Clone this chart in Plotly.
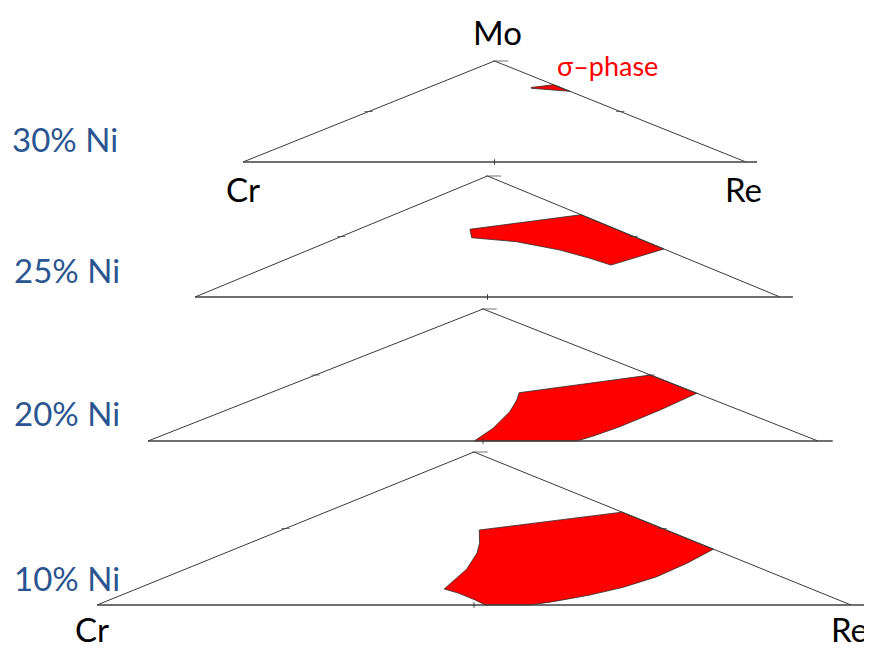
import plotly.graph_objects as go

# page has an 8px body margin, so the figure is 864x640 and sits at (8, 8)
PAGE_W, PAGE_H = 872, 648
OFF = 8
FIG_W, FIG_H = PAGE_W - OFF, PAGE_H - OFF

# ---------------- data ----------------
ni_levels = ["30% Ni", "25% Ni", "20% Ni", "10% Ni"]
components = ["Cr", "Mo", "Re"]
phase_name = "σ–phase"

# sigma-phase field outlines, mole fractions of Mo and Re (Cr = balance)
sigma_mo_30 = [0.738, 0.757, 0.765, 0.700, 0.713, 0.723, 0.730]
sigma_re_30 = [0.204, 0.221, 0.235, 0.300, 0.264, 0.229, 0.208]

sigma_mo_25 = [0.560, 0.680, 0.397, 0.264, 0.320, 0.388, 0.457, 0.490]
sigma_re_25 = [0.190, 0.320, 0.603, 0.579, 0.515, 0.430, 0.321, 0.228]

sigma_mo_20 = [0.366, 0.500, 0.362, 0.235, 0.108, 0.038, 0.000, 0.000, 0.096, 0.222, 0.311]
sigma_re_20 = [0.371, 0.500, 0.638, 0.647, 0.650, 0.646, 0.640, 0.487, 0.467, 0.429, 0.395]

sigma_mo_10 = [0.490, 0.607, 0.365, 0.273, 0.185, 0.116, 0.065, 0.022, 0.000, 0.000,
               0.033, 0.078, 0.105, 0.163, 0.235, 0.340, 0.405]
sigma_re_10 = [0.262, 0.393, 0.635, 0.646, 0.650, 0.640, 0.621, 0.594, 0.574, 0.515,
               0.485, 0.440, 0.408, 0.393, 0.373, 0.334, 0.305]

sigma_mo = [sigma_mo_30, sigma_mo_25, sigma_mo_20, sigma_mo_10]
sigma_re = [sigma_re_30, sigma_re_25, sigma_re_20, sigma_re_10]

# ---------------- layout (page pixels) ----------------
# (Cr corner x, Re corner x, base y, apex y)
panel_boxes = [(243, 746, 162, 61), (195, 780, 297, 176), (148, 818, 441, 309), (97, 851, 605, 452)]
ni_label_pos = [(65, 139), (67, 270), (67, 413), (67, 578)]
corner_label_pos = [(243, 189), (743, 189), (497, 32), (92, 629), (849, 629)]
corner_label_idx = [0, 2, 1, 0, 2]
phase_label_pos = (607, 66)
X_RANGE = [-0.012, 1.025]
Y_RANGE = [-0.03, 1.03]

FONT = "Lato, 'Open Sans', sans-serif"
RED = "#FF0000"
BLUE = "#2B5590"


def px2paper(x, y):
    return (x - OFF) / FIG_W, (FIG_H - (y - OFF)) / FIG_H


def proj(mo, re):
    """ternary (Mo, Re) -> Cartesian position inside a Cr-Re base triangle"""
    return [r + m / 2 for m, r in zip(mo, re)], list(mo)


fig = go.Figure()
axes = {}
for i, (xc, xr, yb, yt) in enumerate(panel_boxes):
    n = i + 1
    W, H = xr - xc, yb - yt
    sfx = "" if n == 1 else str(n)
    x0, y0 = px2paper(xc + X_RANGE[0] * W, yb - Y_RANGE[0] * H)
    x1, y1 = px2paper(xc + X_RANGE[1] * W, yb - Y_RANGE[1] * H)
    axes["xaxis" + sfx] = dict(domain=[x0, x1], range=X_RANGE, visible=False,
                               anchor="y" + sfx, fixedrange=True)
    axes["yaxis" + sfx] = dict(domain=[y0, y1], range=Y_RANGE, visible=False,
                               anchor="x" + sfx, fixedrange=True)
    xa, ya = "x" + sfx, "y" + sfx

    # sigma-phase field
    mo, re = sigma_mo[i], sigma_re[i]
    px, py = proj(mo + [mo[0]], re + [re[0]])
    fig.add_trace(go.Scatter(x=px, y=py, mode="lines", fill="toself", fillcolor=RED,
                             line=dict(color="#2a2a2a", width=0.8),
                             xaxis=xa, yaxis=ya, hoverinfo="skip", showlegend=False))

    # triangle sides Cr -> Mo -> Re
    tx, ty = proj([0, 1, 0], [0, 0, 1])
    fig.add_trace(go.Scatter(x=tx, y=ty, mode="lines", line=dict(color="#3a3a3a", width=1),
                             xaxis=xa, yaxis=ya, hoverinfo="skip", showlegend=False))
    # base line (Cr -> Re, running a little past Re)
    fig.add_trace(go.Scatter(x=[0, 1.022], y=[0, 0], mode="lines",
                             line=dict(color="#404040", width=1.3),
                             xaxis=xa, yaxis=ya, hoverinfo="skip", showlegend=False))
    # small tick marks
    kx, ky = proj([0.5, 0.5], [0.0, 0.5])
    fig.add_trace(go.Scatter(x=kx + [1 / 2 + 6 / W], y=ky + [1], mode="markers",
                             marker=dict(symbol="line-ew", size=[6, 6, 11],
                                         line=dict(color="#3a3a3a", width=1)),
                             xaxis=xa, yaxis=ya, hoverinfo="skip", showlegend=False))
    fig.add_trace(go.Scatter(x=[0.5], y=[0], mode="markers",
                             marker=dict(symbol="line-ns", size=4,
                                         line=dict(color="#3a3a3a", width=1)),
                             xaxis=xa, yaxis=ya, hoverinfo="skip", showlegend=False))

annotations = []
for (lx, ly), txt in zip(ni_label_pos, ni_levels):
    ax, ay = px2paper(lx, ly)
    annotations.append(dict(x=ax, y=ay, xref="paper", yref="paper",
                            text=txt, showarrow=False, xanchor="center", yanchor="middle",
                            font=dict(family=FONT, size=33, color=BLUE)))

for (lx, ly), k in zip(corner_label_pos, corner_label_idx):
    ax, ay = px2paper(lx, ly)
    annotations.append(dict(x=ax, y=ay, xref="paper", yref="paper",
                            text=components[k], showarrow=False, xanchor="center",
                            yanchor="middle",
                            font=dict(family=FONT, size=33, color="#000000")))

ax, ay = px2paper(*phase_label_pos)
annotations.append(dict(x=ax, y=ay, xref="paper", yref="paper",
                        text=phase_name, showarrow=False, xanchor="center", yanchor="middle",
                        font=dict(family=FONT, size=27, color=RED)))

fig.update_layout(
    width=FIG_W, height=FIG_H,
    margin=dict(l=0, r=0, t=0, b=0),
    paper_bgcolor="white", plot_bgcolor="rgba(0,0,0,0)",
    showlegend=False,
    annotations=annotations,
    **axes,
)

fig.write_html("out.html")
